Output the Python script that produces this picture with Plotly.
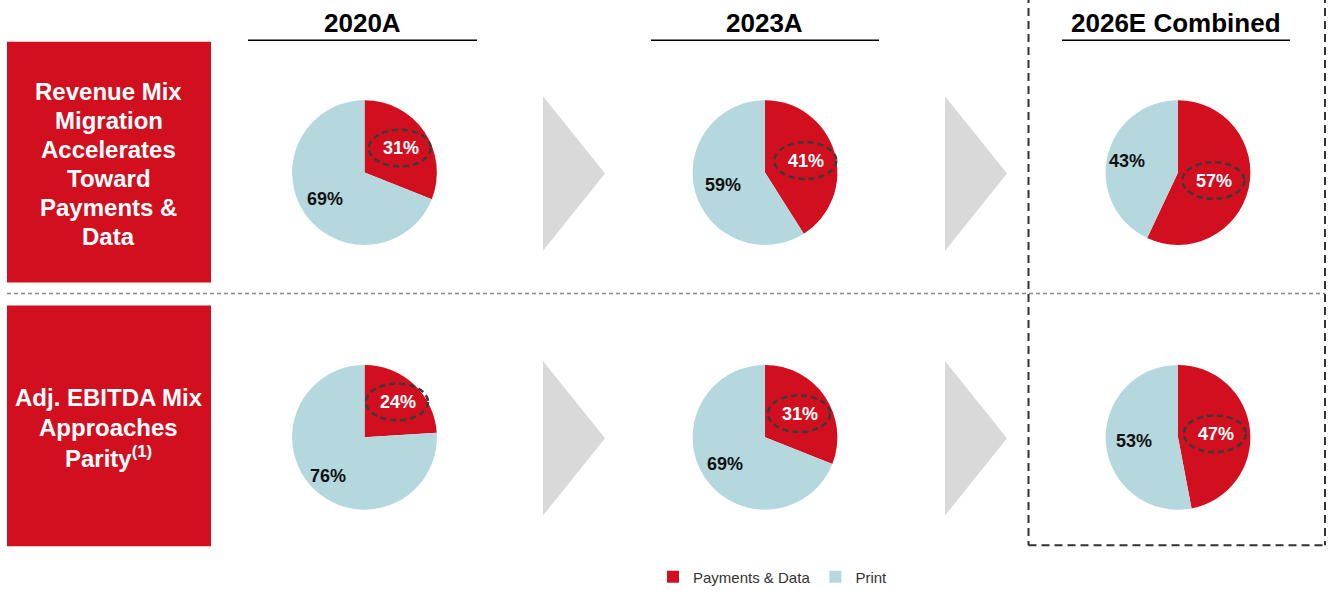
import math
import plotly.graph_objects as go

# ---------------- data ----------------
labels = ["Payments & Data", "Print"]
columns = ["2020A", "2023A", "2026E Combined"]
revenue_payments = [31, 41, 57]
revenue_print = [69, 59, 43]
ebitda_payments = [24, 31, 47]
ebitda_print = [76, 69, 53]
row_title_top = ["Revenue Mix", "Migration", "Accelerates", "Toward", "Payments &", "Data"]
row_title_bottom = ["Adj. EBITDA Mix", "Approaches", "Parity<sup>(1)</sup>"]

# ---------------- style / layout ----------------
W, H = 1328, 594
RED = "#D10F1F"
BLUE = "#B5D8DE"
GREY_ARROW = "#D9D9D9"
FONT = "Liberation Sans, Arial, sans-serif"

col_cx = [364.5, 765, 1178]
row_cy = [174, 441]
R = 73
# label distance from pie centre (fraction of radius) per row / column / slice
label_r = [
    [(0.60, 0.66), (0.59, 0.60), (0.51, 0.71)],
    [(0.67, 0.74), (0.58, 0.66), (0.52, 0.61)],
]


def px(x):
    return x / W


def py(y):
    return 1 - y / H


fig = go.Figure()
shapes = []
annotations = []

rows = [(revenue_payments, revenue_print), (ebitda_payments, ebitda_print)]
for ri, (pay, prt) in enumerate(rows):
    cy = row_cy[ri]
    for ci in range(3):
        cx = col_cx[ci]
        vals = [pay[ci], prt[ci]]
        fig.add_trace(go.Pie(
            values=vals, labels=labels, sort=False, direction="clockwise", rotation=0,
            marker=dict(colors=[RED, BLUE], line=dict(width=0)),
            textinfo="none", hoverinfo="label+percent",
            domain=dict(x=[px(cx - R), px(cx + R)], y=[py(cy + R), py(cy - R)]),
            showlegend=True,
        ))
        total = sum(vals)
        start = 0
        for si, v in enumerate(vals):
            mid = (start + v / 2) / total
            th = 2 * math.pi * mid
            lr = label_r[ri][ci][si]
            lx = cx + R * lr * math.sin(th)
            ly = cy - R * lr * math.cos(th)
            start += v
            annotations.append(dict(
                x=px(lx), y=py(ly), xref="paper", yref="paper", showarrow=False,
                text=f"<b>{v}%</b>", xanchor="center", yanchor="middle",
                font=dict(family=FONT, size=18, color="white" if si == 0 else "#111111"),
            ))
            if si == 0:
                shapes.append(dict(
                    type="circle", xref="paper", yref="paper",
                    x0=px(lx - 32), x1=px(lx + 30), y0=py(ly + 18.5), y1=py(ly - 18.5),
                    line=dict(color="#3A3A3A", width=2.5, dash="6px,4px"),
                ))

# column headers + underlines
for ci, name in enumerate(columns):
    cx = [362, 765, 1176][ci]
    annotations.append(dict(
        x=px(cx), y=py(23), xref="paper", yref="paper", showarrow=False,
        text=f"<b>{name}</b>", xanchor="center", yanchor="middle",
        font=dict(family=FONT, size=26, color="#000000"),
    ))
    ux0, ux1 = [(248, 477), (651, 879), (1062, 1290)][ci]
    shapes.append(dict(type="line", xref="paper", yref="paper",
                       x0=px(ux0), x1=px(ux1), y0=py(40.5), y1=py(40.5),
                       line=dict(color="#000000", width=1.5)))

# left red boxes
for (y0, y1) in [(42, 285), (308, 551)]:
    shapes.append(dict(type="rect", xref="paper", yref="paper", layer="below",
                       x0=px(7), x1=px(211), y0=py(y1), y1=py(y0),
                       fillcolor=RED, line=dict(width=0)))

for lines, ys in [(row_title_top, [92.5, 121.5, 151, 180, 209.5, 238.5]),
                  (row_title_bottom, [401, 431.5, 461])]:
    for t, y in zip(lines, ys):
        annotations.append(dict(
            x=px(109), y=py(y), xref="paper", yref="paper", showarrow=False,
            text=f"<b>{t}</b>", xanchor="center", yanchor="middle",
            font=dict(family=FONT, size=24, color="white"),
        ))

# chevron arrows
for cy in row_cy:
    for ax in [543, 945]:
        path = (f"M {px(ax)},{py(cy - 77)} L {px(ax + 62)},{py(cy + 1)} "
                f"L {px(ax)},{py(cy + 79)} Z")
        shapes.append(dict(type="path", xref="paper", yref="paper", path=path,
                           fillcolor=GREY_ARROW, line=dict(width=0), layer="below"))

# horizontal dashed separator
shapes.append(dict(type="line", xref="paper", yref="paper",
                   x0=px(7), x1=px(1325), y0=py(296), y1=py(296),
                   line=dict(color="#8A8A8A", width=1.5, dash="4px,3px")))

# dashed box around 2026E column
box = dict(color="#333333", width=2, dash="8px,5px")
shapes.append(dict(type="line", xref="paper", yref="paper",
                   x0=px(1028.5), x1=px(1028.5), y0=py(-5), y1=py(550), line=box))
shapes.append(dict(type="line", xref="paper", yref="paper",
                   x0=px(1325), x1=px(1325), y0=py(-5), y1=py(550), line=box))
shapes.append(dict(type="line", xref="paper", yref="paper",
                   x0=px(1028.5), x1=px(1325), y0=py(550), y1=py(550), line=box))

fig.update_layout(
    width=W, height=H, autosize=False,
    margin=dict(l=0, r=0, t=0, b=0),
    paper_bgcolor="white", plot_bgcolor="white",
    shapes=shapes, annotations=annotations,
    legend=dict(orientation="h", x=px(773), xanchor="center", y=py(582), yanchor="middle",
                font=dict(family=FONT, size=15, color="#333333"),
                bgcolor="rgba(0,0,0,0)", traceorder="normal"),
    font=dict(family=FONT),
)

fig.write_html("out.html", config={"displayModeBar": False})
